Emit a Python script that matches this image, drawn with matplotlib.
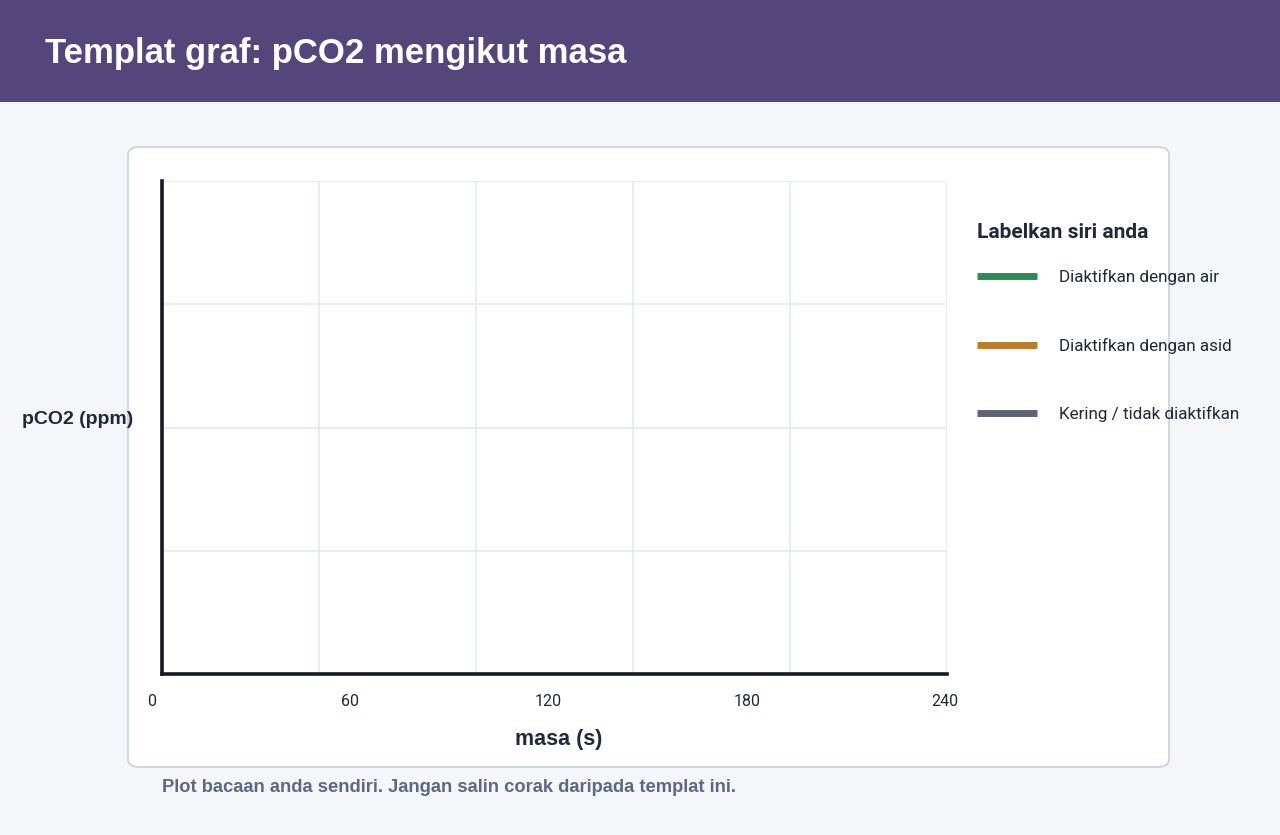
import matplotlib
matplotlib.use("Agg")
import matplotlib.pyplot as plt
from matplotlib.patches import Rectangle, FancyBboxPatch
from matplotlib.ticker import MultipleLocator

# ---- data / text ----
title = "Templat graf: pCO2 mengikut masa"
x_label = "masa (s)"
y_label = "pCO2 (ppm)"
x_ticks = [0, 60, 120, 180, 240]
series_names = ["Diaktifkan dengan air", "Diaktifkan dengan asid", "Kering / tidak diaktifkan"]
series_colors = ["#2E8B57", "#B97D2B", "#5E6572"]
legend_title = "Labelkan siri anda"
footnote = "Plot bacaan anda sendiri. Jangan salin corak daripada templat ini."

W, H = 1280, 835
fig = plt.figure(figsize=(W / 100, H / 100), dpi=100)
fig.patch.set_facecolor("#F4F6F9")

def fx(px):
    return px / W

def fy(py):
    return 1 - py / H

# header band
fig.add_artist(Rectangle((0, fy(102)), 1, 102 / H, transform=fig.transFigure,
                         facecolor="#54467A", edgecolor="none", zorder=0))
fig.text(fx(45), fy(53), title, color="white", fontsize=25, fontweight="bold",
         family="Liberation Sans", va="center", ha="left")

# card
fig.add_artist(FancyBboxPatch((fx(128), fy(767)), fx(1169) - fx(128), fy(147) - fy(767),
                              boxstyle="round,pad=0,rounding_size=0.009",
                              transform=fig.transFigure, facecolor="white",
                              edgecolor="#C9D5E4", linewidth=1.3, zorder=0))

# main axes
ax = fig.add_axes([fx(162), fy(674), fx(947) - fx(162), fy(181) - fy(674)])
ax.set_facecolor("white")
ax.set_xlim(0, 240)
ax.set_ylim(0, 4)
ax.xaxis.set_major_locator(MultipleLocator(48))
ax.yaxis.set_major_locator(MultipleLocator(1))
ax.grid(True, color="#E3E8EF", linewidth=1.1)
ax.tick_params(length=0, labelbottom=False, labelleft=False)
for s in ["top", "right"]:
    ax.spines[s].set_visible(False)
for s in ["left", "bottom"]:
    ax.spines[s].set_color("#141B28")
    ax.spines[s].set_linewidth(2.6)

handles = []
for name, c in zip(series_names, series_colors):
    (h,) = ax.plot([], [], color=c, linewidth=5, label=name, solid_capstyle="butt")
    handles.append(h)

# tick labels axis
tax = fig.add_axes([fx(152), fy(702), fx(945) - fx(152), 0.0001])
tax.set_xlim(0, 240)
tax.set_xticks(x_ticks)
tax.set_xticklabels([str(t) for t in x_ticks], family="Roboto", fontsize=11.5, color="#1F2937")
tax.tick_params(length=0, pad=0)
tax.xaxis.set_ticks_position("bottom")
for lbl in tax.get_xticklabels():
    lbl.set_va("center")
tax.set_yticks([])
for s in tax.spines.values():
    s.set_visible(False)
tax.patch.set_alpha(0)

fig.text(fx(559), fy(739), x_label, ha="center", va="center", fontsize=15.5,
         fontweight="bold", family="Liberation Sans", color="#1F2937")
fig.text(fx(78), fy(420), y_label, ha="center", va="center", fontsize=14,
         fontweight="bold", family="Liberation Sans", color="#1F2937")

# legend
fig.text(fx(977), fy(232), legend_title, ha="left", va="center", fontsize=15,
         fontweight="bold", family="Roboto", color="#1F2937")
leg = fig.legend(handles=handles, loc="upper left", bbox_to_anchor=(fx(977), fy(269)),
                 frameon=False, prop={"family": "Roboto", "size": 12.3},
                 handlelength=3.5, handletextpad=1.29, labelspacing=3.07,
                 borderaxespad=0, borderpad=0)
for t in leg.get_texts():
    t.set_color("#1F2937")

fig.text(fx(162), fy(788), footnote, ha="left", va="center", fontsize=13.2,
         fontweight="bold", family="Liberation Sans", color="#5A6A82")

fig.savefig("out.png", dpi=100, facecolor=fig.get_facecolor())
